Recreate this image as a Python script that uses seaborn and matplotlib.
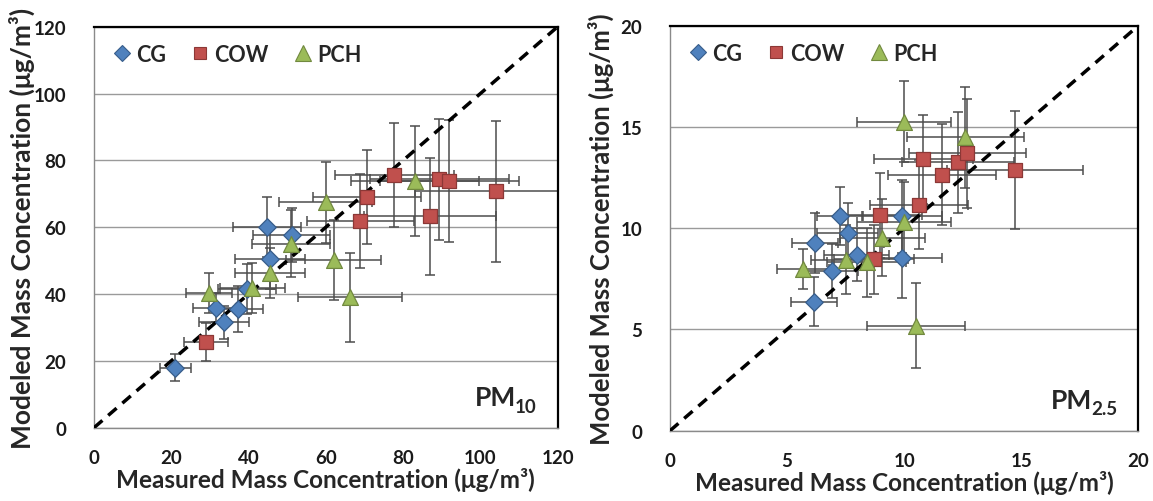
import numpy as np
import pandas as pd
import matplotlib
matplotlib.use("Agg")
import matplotlib.pyplot as plt
import seaborn as sns
from matplotlib.lines import Line2D
from matplotlib.transforms import offset_copy

# ---------------- data ----------------
groups = ["CG", "COW", "PCH"]

# PM10 panel
pm10_cg_x = [21.0, 31.5, 33.7, 37.3, 39.5, 45.6, 44.8, 51.2]
pm10_cg_y = [18.0, 35.9, 31.5, 35.5, 41.5, 50.5, 60.1, 57.7]
pm10_cg_xerr = [4.0, 5.8, 6.5, 6.5, 7.5, 9.0, 8.7, 10.0]
pm10_cg_yerr = [4.0, 4.3, 5.0, 6.8, 7.5, 9.0, 9.0, 8.0]

pm10_cow_x = [29.0, 68.9, 70.7, 77.7, 87.0, 89.4, 91.9, 104.0]
pm10_cow_y = [25.7, 61.9, 69.1, 75.7, 63.3, 74.3, 73.9, 70.7]
pm10_cow_xerr = [5.6, 13.8, 14.0, 15.4, 17.0, 18.0, 18.0, 21.0]
pm10_cow_yerr = [5.7, 14.0, 14.0, 15.6, 17.5, 18.0, 18.3, 21.0]

pm10_pch_x = [29.8, 41.0, 45.6, 51.0, 60.0, 62.0, 66.3, 83.1]
pm10_pch_y = [40.2, 41.8, 46.3, 55.0, 67.4, 50.2, 39.0, 73.8]
pm10_pch_xerr = [6.0, 8.3, 9.0, 10.0, 12.0, 12.2, 13.4, 16.6]
pm10_pch_yerr = [6.0, 7.4, 7.6, 10.0, 12.0, 12.0, 13.3, 16.5]

# PM2.5 panel
pm25_cg_x = [6.15, 6.92, 6.19, 7.26, 7.59, 7.97, 9.91, 9.91]
pm25_cg_y = [6.37, 7.89, 9.27, 10.6, 9.76, 8.69, 10.6, 8.54]
pm25_cg_xerr = [1.0, 1.1, 1.0, 1.0, 1.3, 1.4, 1.7, 1.7]
pm25_cg_yerr = [1.2, 1.35, 1.5, 1.45, 1.5, 1.3, 1.8, 2.0]

pm25_cow_x = [8.72, 8.97, 10.63, 10.82, 11.63, 12.3, 12.7, 14.72]
pm25_cow_y = [8.46, 10.65, 11.15, 13.4, 12.64, 13.25, 13.7, 12.87]
pm25_cow_xerr = [1.7, 1.8, 2.1, 2.1, 2.3, 2.4, 2.5, 2.9]
pm25_cow_yerr = [1.7, 2.1, 2.2, 2.2, 2.5, 2.5, 2.7, 2.9]

pm25_pch_x = [5.69, 7.52, 8.4, 9.07, 9.98, 10.5, 10.0, 12.62]
pm25_pch_y = [7.99, 8.44, 8.31, 9.52, 10.29, 5.19, 15.26, 14.49]
pm25_pch_xerr = [1.1, 1.5, 1.7, 1.8, 2.0, 2.1, 2.0, 2.5]
pm25_pch_yerr = [1.0, 1.7, 1.7, 1.9, 2.0, 2.1, 2.0, 2.5]

pm10_ticks = [0, 20, 40, 60, 80, 100, 120]
pm25_ticks = [0, 5, 10, 15, 20]

# ---------------- style ----------------
sns.set_theme(style="white")
plt.rcParams["font.family"] = ["Lato", "DejaVu Sans"]

colors = {"CG": "#4F81BD", "COW": "#C0504D", "PCH": "#9BBB59"}
edges = {"CG": "#385D8A", "COW": "#8C3836", "PCH": "#71893F"}
markers = {"CG": "D", "COW": "s", "PCH": "^"}
sizes = {"CG": 80, "COW": 95, "PCH": 130}
W = "bold"


def build(cgx, cgy, cgxe, cgye, cwx, cwy, cwxe, cwye, px, py, pxe, pye):
    frames = []
    for g, x, y, xe, ye in [("CG", cgx, cgy, cgxe, cgye),
                            ("COW", cwx, cwy, cwxe, cwye),
                            ("PCH", px, py, pxe, pye)]:
        frames.append(pd.DataFrame({"group": g, "x": x, "y": y, "xerr": xe, "yerr": ye}))
    return pd.concat(frames, ignore_index=True)


df10 = build(pm10_cg_x, pm10_cg_y, pm10_cg_xerr, pm10_cg_yerr,
             pm10_cow_x, pm10_cow_y, pm10_cow_xerr, pm10_cow_yerr,
             pm10_pch_x, pm10_pch_y, pm10_pch_xerr, pm10_pch_yerr)
df25 = build(pm25_cg_x, pm25_cg_y, pm25_cg_xerr, pm25_cg_yerr,
             pm25_cow_x, pm25_cow_y, pm25_cow_xerr, pm25_cow_yerr,
             pm25_pch_x, pm25_pch_y, pm25_pch_xerr, pm25_pch_yerr)

fig = plt.figure(figsize=(11.53, 5.02), dpi=100)
ax1 = fig.add_axes([94 / 1153, 73.3 / 502, 463.7 / 1153, 401 / 502])
ax2 = fig.add_axes([670 / 1153, 70.3 / 502, 468.3 / 1153, 405 / 502])


def draw(ax, df, ticks, sub_label, lim, ylsize, ylx):
    ax.set_xlim(0, lim)
    ax.set_ylim(0, lim)
    ax.set_xticks(ticks)
    ax.set_yticks(ticks)
    ax.yaxis.grid(True, color="#9a9a9a", lw=1.0)
    ax.xaxis.grid(False)
    ax.set_axisbelow(True)
    # error bars
    for g in groups:
        sub = df[df.group == g]
        ax.errorbar(sub.x, sub.y, xerr=sub.xerr, yerr=sub.yerr, fmt="none",
                    ecolor="#4d4d4d", elinewidth=1.1, capsize=3.5, capthick=1.1,
                    zorder=2, clip_on=True)
    # 1:1 line
    ax.plot([0, lim], [0, lim], ls=(0, (3.2, 2.2)), color="black", lw=2.5, zorder=3)
    # markers
    for g in groups:
        sub = df[df.group == g]
        sns.scatterplot(data=sub, x="x", y="y", ax=ax, marker=markers[g],
                        s=sizes[g], color=colors[g], edgecolor=edges[g],
                        linewidth=0.9, zorder=4, legend=False)
    for s in ["top", "right"]:
        ax.spines[s].set_color("black")
        ax.spines[s].set_linewidth(1.6)
    for s in ["left", "bottom"]:
        ax.spines[s].set_color("#8a8a8a")
        ax.spines[s].set_linewidth(1.0)
    ax.tick_params(axis="both", which="major", direction="out", length=6,
                   width=1.0, color="#8a8a8a", labelsize=13.5)
    ax.tick_params(axis="y", pad=14)
    ax.tick_params(axis="x", pad=9)
    for t in ax.get_xticklabels() + ax.get_yticklabels():
        t.set_fontweight(W)
        t.set_color("#1a1a1a")
    ax.set_xlabel("Measured Mass Concentration (\u03bcg/m\u00b3)", labelpad=1,
                  fontsize=17.5, fontweight=W)
    ax.set_ylabel("Modeled Mass Concentration (\u03bcg/m\u00b3)",
                  fontsize=ylsize, fontweight=W)
    ax.yaxis.set_label_coords(ylx, 0.5)
    # legend
    handles = [Line2D([], [], ls="none", marker=markers[g], markersize=ms,
                      markerfacecolor=colors[g], markeredgecolor=edges[g],
                      markeredgewidth=0.8, label=g)
               for g, ms in zip(groups, [8, 8, 11])]
    ax.legend(handles=handles, loc="upper left", ncol=3, frameon=False,
              prop={"size": 15.5, "weight": W}, handletextpad=0.05,
              columnspacing=1.0, handlelength=1.2, borderaxespad=0.3,
              bbox_to_anchor=(0.0, 0.995))
    # PM label with bold subscript
    st = ax.text(0.955, 0.04, sub_label, transform=ax.transAxes, ha="right",
                 va="baseline", fontsize=13.5, fontweight=W)
    fig.canvas.draw()
    wpx = st.get_window_extent().width
    tr = offset_copy(ax.transAxes, fig=fig, x=-wpx * 72 / fig.dpi + 0.5, y=5, units="points")
    ax.text(0.955, 0.04, "PM", transform=tr, ha="right", va="baseline",
            fontsize=19, fontweight=W)


draw(ax1, df10, pm10_ticks, "10", 120, 19, -0.128)
draw(ax2, df25, pm25_ticks, "2.5", 20, 18.5, -0.12)

fig.savefig("out.png", dpi=100)
